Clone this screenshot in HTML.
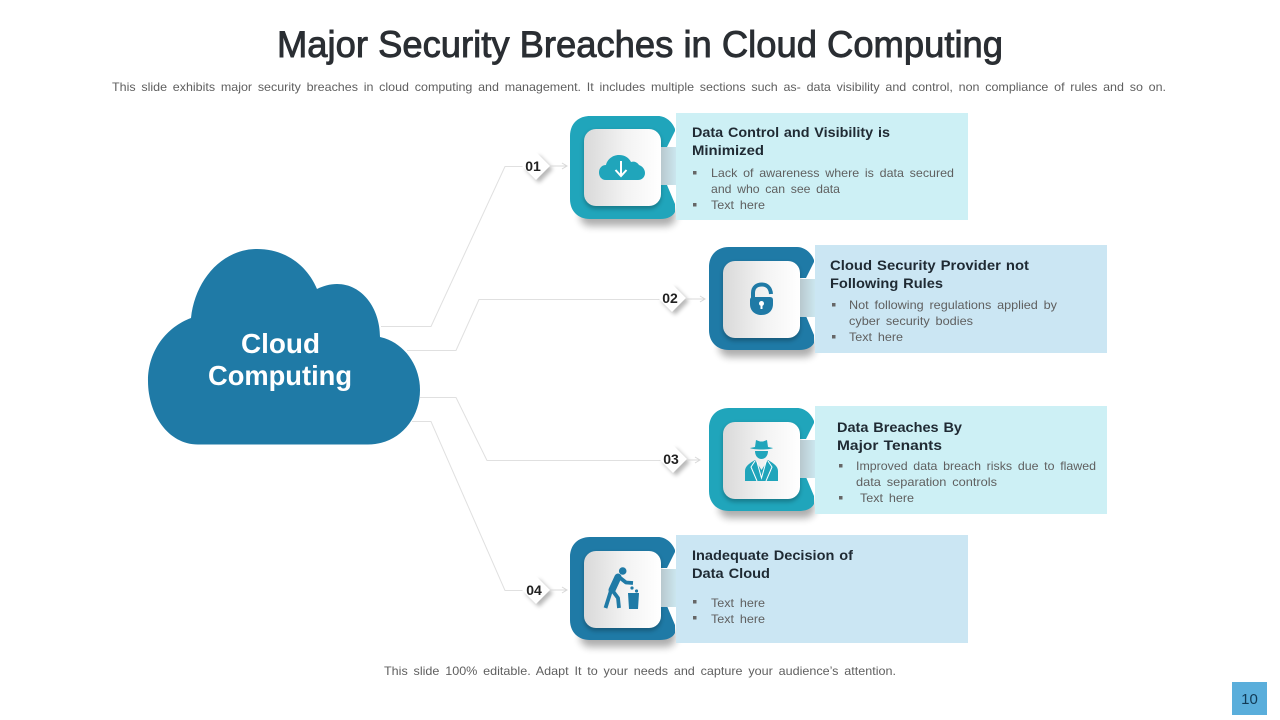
<!DOCTYPE html>
<html><head><meta charset="utf-8"><style>
html,body{margin:0;padding:0;background:#fff;width:1280px;height:720px;overflow:hidden}
svg{display:block}
text{font-family:"Liberation Sans",sans-serif}
.h{font-size:14px;font-weight:bold;fill:#1f2a33;word-spacing:.8px}
.b{font-size:12px;fill:#5f5f5f;word-spacing:2.2px}
.n{font-size:14px;font-weight:bold;fill:#222;text-anchor:middle}
.l{fill:none;stroke:#e0e0e0;stroke-width:1}
.a{fill:none;stroke:#d8d8d8;stroke-width:1}
</style></head><body>
<svg width="1280" height="720" viewBox="0 0 1280 720" xmlns="http://www.w3.org/2000/svg">
<defs>
<linearGradient id="tile" x1="0" x2="1" y1="0" y2="0"><stop offset="0" stop-color="#d9d9d9"/><stop offset=".55" stop-color="#f3f3f3"/><stop offset="1" stop-color="#fff"/></linearGradient>
<linearGradient id="gap" x1="0" x2="1" y1="0" y2="0"><stop offset="0" stop-color="#b8c8ce"/><stop offset="1" stop-color="#cbe6ee"/></linearGradient>
<filter id="bl" x="-30%" y="-60%" width="160%" height="220%"><feGaussianBlur stdDeviation="4"/></filter>
<filter id="bs" x="-50%" y="-50%" width="200%" height="200%"><feGaussianBlur stdDeviation="2"/></filter>
<g id="cshadow"><rect x="10" y="90" width="96" height="20" rx="10" fill="#000" opacity=".32" filter="url(#bl)"/></g>
<g id="tileg"><rect x="14" y="15" width="77" height="78" rx="12" fill="#000" opacity=".25" filter="url(#bs)"/><rect x="91" y="31" width="15" height="38" fill="url(#gap)"/><rect x="14" y="13" width="77" height="77" rx="12" fill="url(#tile)"/></g>
<path id="cs" d="M20 0H88C95 0 102 5 105 13V15L97 31H60V69H97L105 88V96C103 100 98 103 90 103H20C8 103 0 95 0 83V20C0 8 8 0 20 0Z"/>
<g id="dia"><path d="M3 -11L17 3 3 17-11 3Z" fill="#000" opacity=".28" filter="url(#bs)"/><path d="M0 -14L14 0 0 14-14 0Z" fill="#fff"/></g>
</defs>

<text x="277" y="57" font-size="37.500" textLength="726" lengthAdjust="spacingAndGlyphs" fill="#2a2e33" stroke="#2a2e33" stroke-width=".9">Major Security Breaches in Cloud Computing</text>
<text x="112" y="91" class="b" textLength="1054" lengthAdjust="spacingAndGlyphs">This slide exhibits major security breaches in cloud computing and management. It includes multiple sections such as- data visibility and control, non compliance of rules and so on.</text>

<!-- connectors -->
<path class="l" d="M381 326.500H431L505 166.500H525"/>
<path class="l" d="M407 350.500H456L479 299.500H660"/>
<path class="l" d="M420 397.500H456L487 460.500H662"/>
<path class="l" d="M412 421.500H431L505 590.500H525"/>

<!-- cloud -->
<path d="M198 444.500C168 444.500 148 414 148 381C148 350 167 327 191 318C195 280 222 249 257 249C285 249 307 265 317 289C323 286 330 284 337 284C362 284 380 308 380 337C403 342 420 364 420 390C420 420 398 444.500 368 444.500Z" fill="#1f7aa6"/>
<text x="241" y="353" font-size="28" font-weight="bold" fill="#fff" textLength="79" lengthAdjust="spacingAndGlyphs">Cloud</text>
<text x="208" y="385" font-size="28" font-weight="bold" fill="#fff" textLength="144" lengthAdjust="spacingAndGlyphs">Computing</text>

<!-- card 1 -->
<g transform="translate(570 116)"><use href="#cshadow"/><use href="#cs" fill="#20a5bb"/><use href="#tileg"/></g>
<rect x="676" y="113" width="292" height="107" fill="#cdf0f5"/>
<path d="M606 180C601 180 599 176 599 172.500C599 168 602 165 606 165C607 160 612 155 619 155C625 155 629 158 631 162C634 161 637 162 639 165C642 166 645 169 645 173C645 177 642 180 638 180Z" fill="#20a5bb"/>
<path d="M621 161V175M615.500 170L621 176 626.500 170" stroke="#fff" stroke-width="2" fill="none"/>
<use href="#dia" x="536" y="166"/>
<text x="533" y="171" class="n">01</text>
<path class="a" d="M550 166H567M562 163L567 166 562 169"/>
<text x="692" y="137" class="h" textLength="198" lengthAdjust="spacingAndGlyphs">Data Control and Visibility is</text>
<text x="692" y="155" class="h" textLength="72" lengthAdjust="spacingAndGlyphs">Minimized</text>
<rect x="693" y="171" width="3.500" height="3.500" fill="#666"/>
<text x="711" y="177" class="b" textLength="243" lengthAdjust="spacingAndGlyphs">Lack of awareness where is data secured</text>
<text x="711" y="193" class="b" textLength="129" lengthAdjust="spacingAndGlyphs">and who can see data</text>
<rect x="693" y="203" width="3.500" height="3.500" fill="#666"/>
<text x="711" y="209" class="b" textLength="54" lengthAdjust="spacingAndGlyphs">Text here</text>

<!-- card 2 -->
<g transform="translate(709 247)"><use href="#cshadow"/><use href="#cs" fill="#1f7aa6"/><use href="#tileg" y="1"/></g>
<rect x="815" y="245" width="292" height="108" fill="#cbe6f3"/>
<path d="M753 299V293C753 287 757 284.500 762 284.500C767 284.500 770.500 288 771 294" fill="none" stroke="#1f7aa6" stroke-width="4"/>
<path d="M750 300Q750 297 753 297H770Q773 297 773 300V304C773 311 768 315 761.500 315C755 315 750 311 750 304Z" fill="#1f7aa6"/>
<circle cx="761.500" cy="303.500" r="2.500" fill="#fff"/><rect x="760.500" y="304" width="2" height="5" fill="#fff"/>
<use href="#dia" x="672" y="298"/>
<text x="670" y="303" class="n">02</text>
<path class="a" d="M687 299H705M700 296L705 299 700 302"/>
<text x="830" y="270" class="h" textLength="199" lengthAdjust="spacingAndGlyphs">Cloud Security Provider  not</text>
<text x="830" y="288" class="h" textLength="113" lengthAdjust="spacingAndGlyphs">Following Rules</text>
<rect x="832" y="303" width="3.500" height="3.500" fill="#666"/>
<text x="849" y="309" class="b" textLength="208" lengthAdjust="spacingAndGlyphs">Not following regulations applied by</text>
<text x="849" y="325" class="b" textLength="124" lengthAdjust="spacingAndGlyphs">cyber security bodies</text>
<rect x="832" y="335" width="3.500" height="3.500" fill="#666"/>
<text x="849" y="341" class="b" textLength="54" lengthAdjust="spacingAndGlyphs">Text here</text>

<!-- card 3 -->
<g transform="translate(709 408)"><use href="#cshadow"/><use href="#cs" fill="#20a5bb"/><use href="#tileg" y="1"/></g>
<rect x="815" y="406" width="292" height="108" fill="#cdf0f5"/>
<path d="M755 447L756 440 760 441.500H763L767 440 768 447 773 448C770 450 753 450 750 448Z" fill="#20a5bb"/>
<path d="M755 451H768C768 456 765 459 761.500 459 758 459 755 456 755 451Z" fill="#20a5bb"/>
<path d="M745 481V471C745 466 750 463 755 460L761.500 470 768 460C773 463 778 466 778 471V481Z" fill="#20a5bb"/>
<path d="M755 461L751 467 757 481M768 461L772 467 766 481M757 462L761.500 478 766 462" fill="none" stroke="#fff" stroke-width="1"/>
<use href="#dia" x="673" y="459"/>
<text x="671" y="464" class="n">03</text>
<path class="a" d="M688 460H700M695 457L700 460 695 463"/>
<text x="837" y="432" class="h" textLength="125" lengthAdjust="spacingAndGlyphs">Data Breaches By</text>
<text x="837" y="450" class="h" textLength="105" lengthAdjust="spacingAndGlyphs">Major  Tenants</text>
<rect x="839" y="464" width="3.500" height="3.500" fill="#666"/>
<text x="856" y="470" class="b" textLength="240" lengthAdjust="spacingAndGlyphs">Improved data breach risks due to flawed</text>
<text x="856" y="486" class="b" textLength="141" lengthAdjust="spacingAndGlyphs">data separation controls</text>
<rect x="839" y="496" width="3.500" height="3.500" fill="#666"/>
<text x="860" y="502" class="b" textLength="54" lengthAdjust="spacingAndGlyphs">Text here</text>

<!-- card 4 -->
<g transform="translate(570 537)"><use href="#cshadow"/><use href="#cs" fill="#1f7aa6"/><use href="#tileg" y="1"/></g>
<rect x="676" y="535" width="292" height="108" fill="#cbe6f3"/>
<circle cx="622.700" cy="571" r="3.800" fill="#1f7aa6"/>
<path d="M618 577L612 590" stroke="#1f7aa6" stroke-width="7" stroke-linecap="round" fill="none"/>
<path d="M619 577L626 582.500 633 583M611.500 589L605.500 608M612 590L618 598 619 608" fill="none" stroke="#1f7aa6" stroke-width="3.800" stroke-linejoin="round"/>
<path d="M628 593H639L638 609H629Z" fill="#1f7aa6"/>
<circle cx="632" cy="588" r="1.600" fill="#1f7aa6"/><circle cx="636.500" cy="591" r="1.600" fill="#1f7aa6"/>
<use href="#dia" x="536" y="590"/>
<text x="534" y="595" class="n">04</text>
<path class="a" d="M550 590H567M562 587L567 590 562 593"/>
<text x="692" y="560" class="h" textLength="161" lengthAdjust="spacingAndGlyphs">Inadequate Decision of</text>
<text x="692" y="578" class="h" textLength="78" lengthAdjust="spacingAndGlyphs">Data Cloud</text>
<rect x="693" y="600" width="3.500" height="3.500" fill="#666"/>
<text x="711" y="607" class="b" textLength="54" lengthAdjust="spacingAndGlyphs">Text here</text>
<rect x="693" y="616" width="3.500" height="3.500" fill="#666"/>
<text x="711" y="623" class="b" textLength="54" lengthAdjust="spacingAndGlyphs">Text here</text>

<text x="384" y="675" class="b" textLength="512" lengthAdjust="spacingAndGlyphs">This slide 100% editable. Adapt  It to your needs and capture your audience’s attention.</text>
<rect x="1232" y="682" width="35" height="33" fill="#5aaedb"/>
<text x="1249.500" y="704" font-size="15" fill="#123a55" text-anchor="middle">10</text>
</svg>
</body></html>
